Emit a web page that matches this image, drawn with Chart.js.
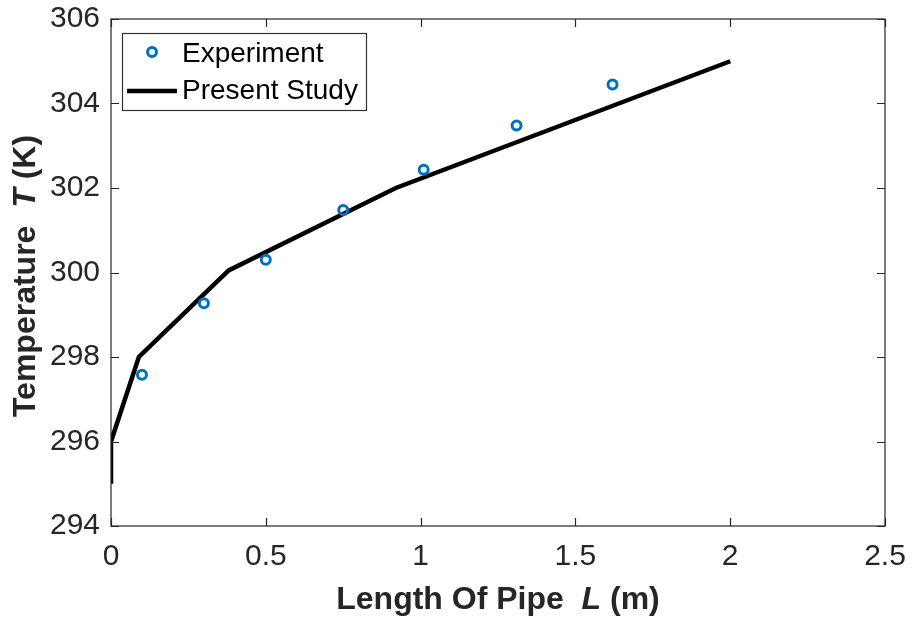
<!DOCTYPE html>
<html>
<head>
<meta charset="utf-8">
<script src="https://cdn.jsdelivr.net/npm/chart.js@4.4.1/dist/chart.umd.min.js"></script>
<style>
  html, body { margin: 0; padding: 0; background: #fff; }
  #wrap { width: 912px; height: 624px; }
</style>
</head>
<body>
<div id="wrap"><canvas id="c" width="912" height="624"></canvas></div>
<script>
// Measured temperatures along the pipe
const expLength = [0.10, 0.30, 0.50, 0.75, 1.01, 1.31, 1.62];
const expTemp   = [297.58, 299.27, 300.3, 301.48, 302.43, 303.48, 304.45];

// Model prediction
const modelLength = [0.00, 0.00, 0.09, 0.38, 0.92, 2.00];
const modelTemp   = [295.0, 296.0, 298.0, 300.05, 302.0, 305.0];

const xTicks = [0, 0.5, 1, 1.5, 2, 2.5];
const yTicks = [294, 296, 298, 300, 302, 304, 306];

const seriesNames = ['Experiment', 'Present Study'];
const xTitle = ['Length Of Pipe  ', 'L', ' (m)'];
const yTitle = ['Temperature  ', 'T', ' (K)'];

const AX = '#262626';
const BLUE = '#0072BD';
const FONT = '"Liberation Sans", Arial, sans-serif';

function toXY(xs, ys) { return xs.map((x, i) => ({ x: x, y: ys[i] })); }

// Draws a text made of bold / bold italic / bold pieces, centred at (0,0)
function drawMixed(ctx, parts, size) {
  const fonts = [`bold ${size}px ${FONT}`, `italic bold ${size}px ${FONT}`, `bold ${size}px ${FONT}`];
  let total = 0;
  const widths = parts.map((p, i) => { ctx.font = fonts[i]; const w = ctx.measureText(p).width; total += w; return w; });
  let x = -total / 2;
  ctx.textBaseline = 'middle';
  ctx.textAlign = 'left';
  parts.forEach((p, i) => { ctx.font = fonts[i]; ctx.fillText(p, x, 0); x += widths[i]; });
}

const framePlugin = {
  id: 'frame',
  afterDatasetsDraw(chart) {
    const { ctx, chartArea: a, scales } = chart;
    ctx.save();
    ctx.strokeStyle = AX;
    ctx.lineWidth = 1.2;
    ctx.strokeRect(a.left, a.top, a.right - a.left, a.bottom - a.top);
    const tl = 8;
    ctx.beginPath();
    xTicks.forEach(v => {
      const px = Math.round(scales.x.getPixelForValue(v)) + 0.5;
      ctx.moveTo(px, a.bottom); ctx.lineTo(px, a.bottom - tl);
      ctx.moveTo(px, a.top); ctx.lineTo(px, a.top + tl);
    });
    yTicks.forEach(v => {
      const py = Math.round(scales.y.getPixelForValue(v)) + 0.5;
      ctx.moveTo(a.left, py); ctx.lineTo(a.left + tl, py);
      ctx.moveTo(a.right, py); ctx.lineTo(a.right - tl, py);
    });
    ctx.stroke();

    // Legend box
    const lx = 122, ly = 33, lw = 244, lh = 77;
    ctx.fillStyle = '#fff';
    ctx.fillRect(lx, ly, lw, lh);
    ctx.strokeStyle = '#333';
    ctx.lineWidth = 1.2;
    ctx.strokeRect(lx + 0.5, ly + 0.5, lw, lh);
    ctx.strokeStyle = BLUE;
    ctx.lineWidth = 3;
    ctx.beginPath(); ctx.arc(152, 52, 4.5, 0, Math.PI * 2); ctx.stroke();
    ctx.strokeStyle = '#000';
    ctx.lineWidth = 4.5;
    ctx.beginPath(); ctx.moveTo(127, 91); ctx.lineTo(177, 91); ctx.stroke();
    ctx.fillStyle = '#000';
    ctx.font = `28px ${FONT}`;
    ctx.textAlign = 'left';
    ctx.textBaseline = 'middle';
    ctx.fillText(seriesNames[0], 182, 54);
    ctx.fillText(seriesNames[1], 182, 91);

    // Axis titles
    ctx.fillStyle = AX;
    ctx.save();
    ctx.translate((a.left + a.right) / 2, 600);
    drawMixed(ctx, xTitle, 32);
    ctx.restore();
    ctx.save();
    ctx.translate(26, 276);
    ctx.rotate(-Math.PI / 2);
    drawMixed(ctx, yTitle, 32);
    ctx.restore();
    ctx.restore();
  }
};

new Chart(document.getElementById('c'), {
  type: 'scatter',
  data: {
    datasets: [
      {
        label: seriesNames[0],
        data: toXY(expLength, expTemp),
        showLine: false,
        pointStyle: 'circle',
        pointRadius: 4.5,
        pointBorderWidth: 3,
        pointBorderColor: BLUE,
        pointBackgroundColor: 'rgba(0,0,0,0)',
        order: 0
      },
      {
        label: seriesNames[1],
        data: toXY(modelLength, modelTemp),
        showLine: true,
        borderColor: '#000',
        borderWidth: 4.5,
        pointRadius: 0,
        fill: false,
        tension: 0,
        order: 1
      }
    ]
  },
  options: {
    responsive: false,
    animation: false,
    devicePixelRatio: 1,
    layout: { padding: { left: 0, top: 19, right: 27, bottom: 0 } },
    plugins: { legend: { display: false }, tooltip: { enabled: false } },
    scales: {
      x: {
        type: 'linear', min: 0, max: 2.5,
        afterFit(s) { s.height = 98; s.paddingLeft = 0; s.paddingRight = 0; },
        afterBuildTicks(s) { s.ticks = xTicks.map(v => ({ value: v })); },
        grid: { display: false, drawTicks: false },
        border: { display: false },
        ticks: { color: AX, font: { family: FONT, size: 30 }, padding: 13, maxRotation: 0,
                 autoSkip: false, callback: v => String(v) }
      },
      y: {
        type: 'linear', min: 294, max: 306,
        afterFit(s) { s.width = 111; s.paddingTop = 0; s.paddingBottom = 0; },
        afterBuildTicks(s) { s.ticks = yTicks.map(v => ({ value: v })); },
        grid: { display: false, drawTicks: false },
        border: { display: false },
        ticks: { color: AX, font: { family: FONT, size: 30 }, padding: 11, autoSkip: false }
      }
    }
  },
  plugins: [framePlugin]
});
</script>
</body>
</html>
